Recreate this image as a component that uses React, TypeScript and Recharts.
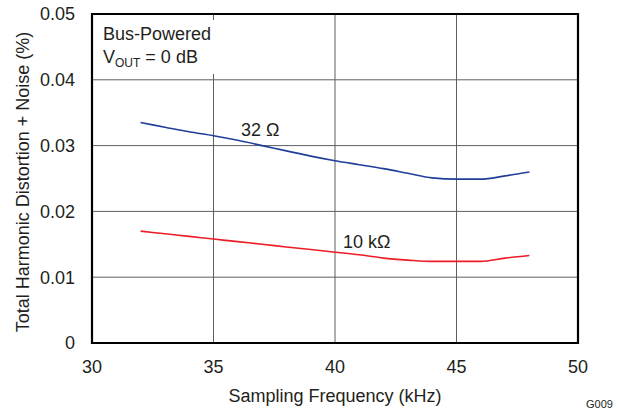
import { LineChart, Line, XAxis, YAxis, CartesianGrid, ReferenceArea, ReferenceDot, Label } from 'recharts';

const freqs = [32, 33, 34, 35, 36, 37, 38, 39, 40, 41, 42, 43, 44, 45, 46, 47, 48];
const thd32Ohm = [0.0335, 0.0328, 0.0321, 0.0315, 0.0308, 0.03, 0.0292, 0.0284, 0.0277, 0.0271, 0.0265, 0.0258, 0.0251, 0.0249, 0.0249, 0.0254, 0.026];
const thd10kOhm = [0.017, 0.0166, 0.0162, 0.0158, 0.0154, 0.015, 0.0146, 0.0142, 0.0138, 0.0134, 0.0129, 0.0126, 0.0124, 0.0124, 0.0124, 0.0129, 0.0133];
const xTicks = [30, 35, 40, 45, 50];
const yTicks = [0, 0.01, 0.02, 0.03, 0.04, 0.05];

const data = freqs.map((f, i) => ({ freq: f, ohm32: thd32Ohm[i], k10: thd10kOhm[i] }));

const FONT = '"Liberation Sans", Arial, Helvetica, sans-serif';
const tickStyle = { fontSize: 18, fill: '#231f20', fontFamily: FONT };

export default function App() {
    return (
        <div style={{ position: 'absolute', left: 0, top: 0, width: 619, height: 412, background: '#fff', fontFamily: FONT }}>
            <LineChart width={619} height={412} data={data} margin={{ top: 14, right: 41, left: 0, bottom: 0 }}>
                <CartesianGrid stroke="#5f5f5f" strokeWidth={1} />
                <XAxis
                    dataKey="freq"
                    type="number"
                    domain={[30, 50]}
                    ticks={xTicks}
                    height={69}
                    axisLine={false}
                    tickLine={false}
                    tickSize={0}
                    tickMargin={17}
                    tick={tickStyle}
                >
                    <Label
                        content={() => (
                            <text x={335} y={402} textAnchor="middle" fontSize={18} fill="#231f20" fontFamily={FONT}>
                                Sampling Frequency (kHz)
                            </text>
                        )}
                    />
                </XAxis>
                <YAxis
                    type="number"
                    domain={[0, 0.05]}
                    ticks={yTicks}
                    width={92}
                    axisLine={false}
                    tickLine={false}
                    tickSize={0}
                    tickMargin={17}
                    tick={tickStyle}
                    tickFormatter={(v: number) => (v === 0 ? '0' : v.toFixed(2))}
                >
                    <Label
                        content={() => (
                            <text x={29} y={182} transform="rotate(-90 29 182)" textAnchor="middle" fontSize={18} fill="#231f20" fontFamily={FONT}>
                                Total Harmonic Distortion + Noise (%)
                            </text>
                        )}
                    />
                </YAxis>

                {/* legend box, covers the grid */}
                <ReferenceArea
                    x1={30}
                    x2={35.1}
                    y1={0.0409}
                    y2={0.0491}
                    fill="#fff"
                    fillOpacity={1}
                    stroke="none"
                    label={(props: any) => {
                        const vb = props.viewBox || {};
                        const x = (vb.x ?? 92) + 11;
                        const y = (vb.y ?? 20);
                        return (
                            <g fontFamily={FONT} fill="#231f20">
                                <text x={x} y={y + 20} fontSize={18}>Bus-Powered</text>
                                <text x={x} y={y + 43} fontSize={18}>
                                    V<tspan fontSize={12} dy={4}>OUT</tspan>
                                    <tspan dy={-4}> = 0 dB</tspan>
                                </text>
                            </g>
                        );
                    }}
                />

                <Line type="monotone" dataKey="ohm32" stroke="#1f3f99" strokeWidth={1.6} dot={false} isAnimationActive={false} />
                <Line type="monotone" dataKey="k10" stroke="#ee1c25" strokeWidth={1.6} dot={false} isAnimationActive={false} />

                <ReferenceDot
                    x={36.13}
                    y={0.03146}
                    r={0}
                    fill="none"
                    stroke="none"
                    label={(props: any) => {
                        const vb = props.viewBox || {};
                        return (
                            <text x={vb.x} y={vb.y} fontSize={18} fill="#231f20" fontFamily={FONT}>32 Ω</text>
                        );
                    }}
                />
                <ReferenceDot
                    x={40.33}
                    y={0.01444}
                    r={0}
                    fill="none"
                    stroke="none"
                    label={(props: any) => {
                        const vb = props.viewBox || {};
                        return (
                            <text x={vb.x} y={vb.y} fontSize={18} fill="#231f20" fontFamily={FONT}>10 kΩ</text>
                        );
                    }}
                />

                {/* plot frame */}
                <ReferenceArea x1={30} x2={50} y1={0} y2={0.05} fill="none" stroke="#000" strokeWidth={2.2} />
            </LineChart>
            <span style={{ position: 'absolute', left: 586, top: 399, fontSize: 11, lineHeight: '11px', color: '#231f20' }}>G009</span>
        </div>
    );
}
